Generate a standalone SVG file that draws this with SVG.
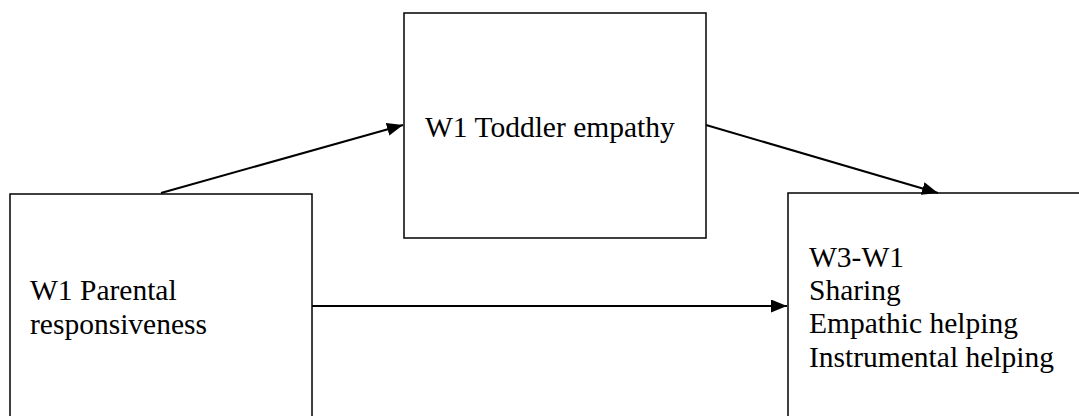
<svg xmlns="http://www.w3.org/2000/svg" width="1079" height="416" viewBox="0 0 1079 416">
<style>
.box{fill:#fff;stroke:#000;stroke-width:1.5}
.lbl{font-family:"Liberation Serif","Times New Roman",serif;font-size:29.5px;fill:#000}
.conn{stroke:#000;stroke-width:2;fill:none}
</style>
<defs>
<marker id="ah" markerUnits="userSpaceOnUse" markerWidth="17" markerHeight="13" viewBox="0 0 17 13" refX="16" refY="6.5" orient="auto">
<path d="M0,0 L16,6.5 L0,13 Z" fill="#000"/>
</marker>
</defs>
<rect width="1079" height="416" fill="#fff"/>
<g id="node-parental">
<rect class="box" x="10" y="194" width="302" height="230"/>
<text class="lbl" x="30" y="300">W1 Parental</text>
<text class="lbl" x="30" y="334">responsiveness</text>
</g>
<g id="node-empathy">
<rect class="box" x="404" y="13" width="302" height="225"/>
<text class="lbl" x="425" y="137">W1 Toddler empathy</text>
</g>
<g id="node-outcomes">
<rect class="box" x="788" y="193" width="300" height="231"/>
<text class="lbl" x="809" y="267">W3-W1</text>
<text class="lbl" x="809" y="300">Sharing</text>
<text class="lbl" x="809" y="333">Empathic helping</text>
<text class="lbl" x="809" y="367">Instrumental helping</text>
</g>
<g id="connectors">
<line class="conn" x1="161" y1="193" x2="403" y2="125" marker-end="url(#ah)"/>
<line class="conn" x1="706" y1="125" x2="938" y2="193" marker-end="url(#ah)"/>
<line class="conn" x1="312" y1="306" x2="787" y2="306" marker-end="url(#ah)"/>
</g>
</svg>
